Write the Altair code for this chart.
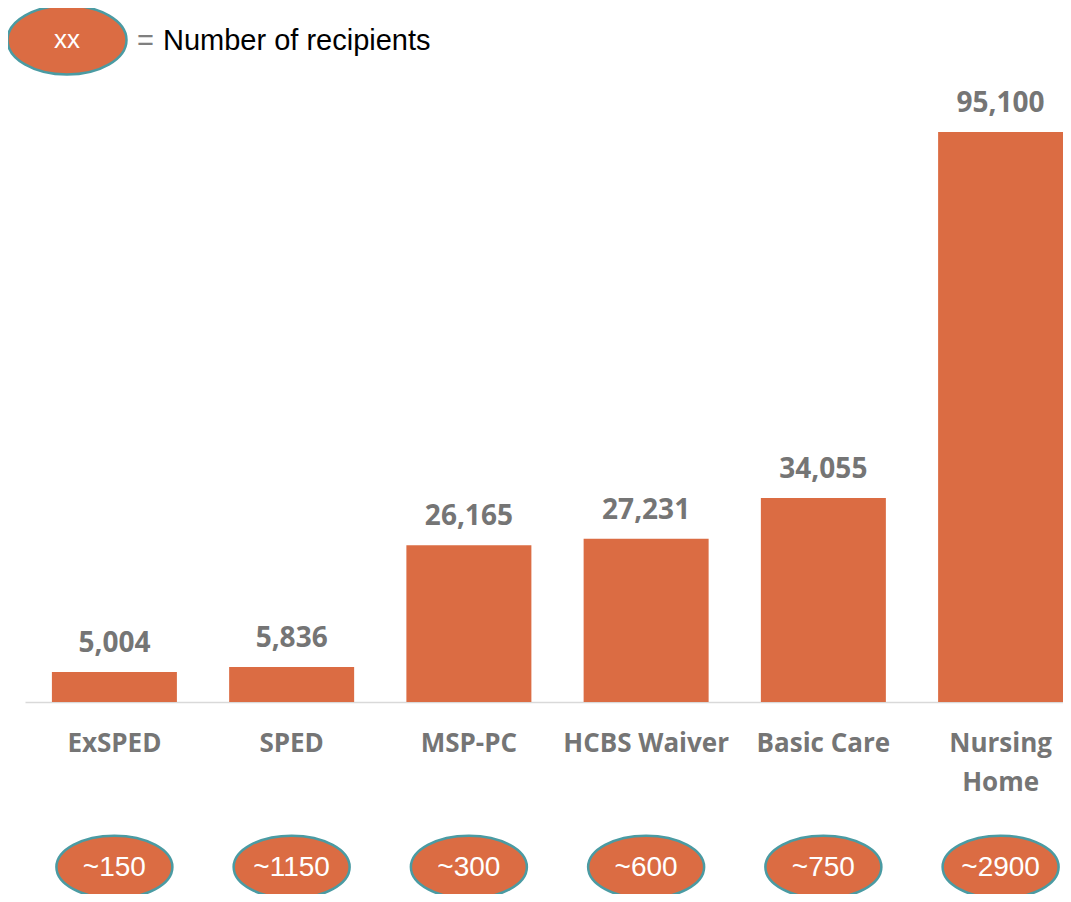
import altair as alt
import pandas as pd

categories = ["ExSPED", "SPED", "MSP-PC", "HCBS Waiver", "Basic Care", "Nursing Home"]
values = [5004, 5836, 26165, 27231, 34055, 95100]
recipients = ["~150", "~1150", "~300", "~600", "~750", "~2900"]

legend_key = ["xx"]
legend_eq = ["="]
legend_text = ["Number of recipients"]

BAR = "#DB6C43"
TEAL = "#4A9BA3"
GRAY = "#757575"

df = pd.DataFrame({"cat": categories, "val": values, "rec": recipients})
df["label"] = df["val"].map(lambda v: f"{v:,}")

xscale = alt.Scale(domain=categories, paddingInner=0.296, paddingOuter=0.0762, align=1.0)
yscale = alt.Scale(domain=[0, 115790], nice=False, zero=True)

x = alt.X("cat:N", scale=xscale, sort=categories, title=None,
          axis=alt.Axis(labelAngle=0, ticks=False, domainColor="#D9D9D9", domainWidth=1.5,
                        labelFont="Open Sans", labelFontWeight="bold", labelFontSize=26,
                        labelColor=GRAY, labelPadding=28, labelLineHeight=39,
                        labelExpr="datum.label == 'Nursing Home' ? ['Nursing', 'Home'] : datum.label",
                        grid=False))
y = alt.Y("val:Q", scale=yscale, axis=None)

base = alt.Chart(df)

bars = base.mark_bar(color=BAR, size=125).encode(x=x, y=y)

vlabels = base.mark_text(font="Open Sans", fontWeight="bold", fontSize=28, color=GRAY,
                         baseline="alphabetic", dy=-20).encode(x=x, y=y, text="label:N")

ellipse_path = "M -1 0 A 1 0.54 0 1 1 1 0 A 1 0.54 0 1 1 -1 0 Z"
ellipses = base.mark_point(shape=ellipse_path, size=116 * 116, filled=True, fill=BAR,
                           stroke=TEAL, strokeWidth=2.5, opacity=1).encode(
    x=x, y=alt.value(859))
etext = base.mark_text(font="Liberation Sans", fontSize=28, color="white",
                       baseline="middle").encode(x=x, y=alt.value(860), text="rec:N")

leg_df = pd.DataFrame({"key": legend_key, "eq": legend_eq, "txt": legend_text})
leg_path = "M -1 0 A 1 0.58 0 1 1 1 0 A 1 0.58 0 1 1 -1 0 Z"
leg_ell = alt.Chart(leg_df).mark_point(shape=leg_path, size=119 * 119, filled=True, fill=BAR,
                                       stroke=TEAL, strokeWidth=2.5, opacity=1).encode(
    x=alt.value(42), y=alt.value(32))
leg_key = alt.Chart(leg_df).mark_text(font="Liberation Sans", fontSize=26, color="white",
                                      baseline="middle").encode(
    x=alt.value(42), y=alt.value(32), text="key:N")
leg_eq = alt.Chart(leg_df).mark_text(font="Liberation Sans", fontSize=29, color="#7F7F7F",
                                     baseline="middle", align="left").encode(
    x=alt.value(112), y=alt.value(33), text="eq:N")
leg_txt = alt.Chart(leg_df).mark_text(font="Liberation Sans", fontSize=29, color="black",
                                      baseline="middle", align="left").encode(
    x=alt.value(138), y=alt.value(33), text="txt:N")

chart = alt.layer(bars, vlabels, ellipses, etext, leg_ell, leg_key, leg_eq, leg_txt).properties(
    width=1038, height=694,
    background="white",
    autosize=alt.AutoSizeParams(type="none"),
    padding={"left": 17, "top": 0, "right": 0, "bottom": 192},
).configure_view(strokeWidth=0, stroke="transparent")

chart.save("out.html", embed_options={"renderer": "svg", "actions": False})
